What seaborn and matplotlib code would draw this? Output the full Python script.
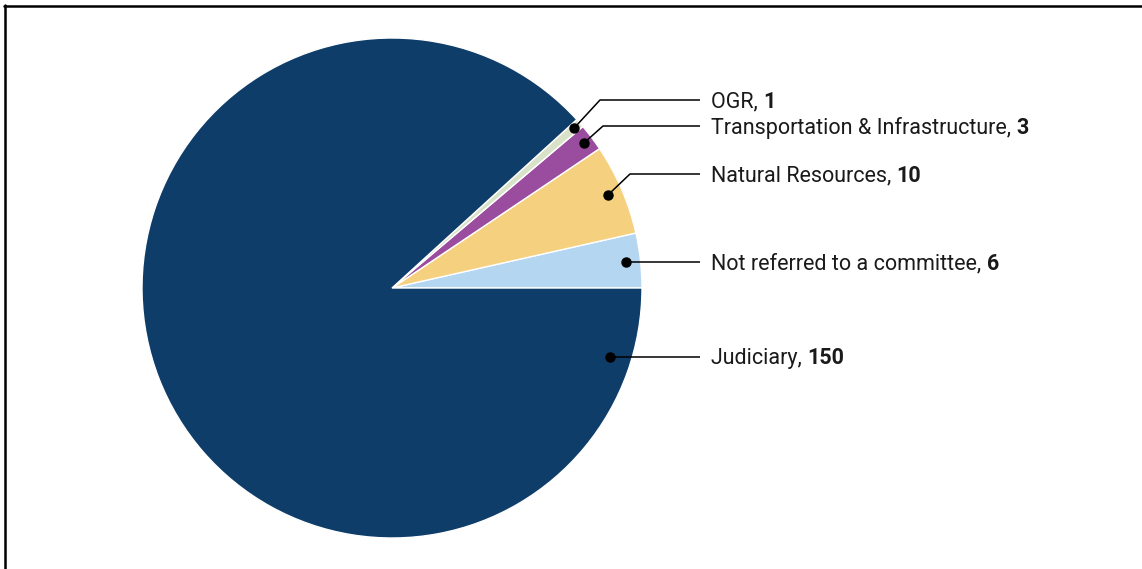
import numpy as np
import matplotlib
matplotlib.use("Agg")
import matplotlib.pyplot as plt
from matplotlib.lines import Line2D
import seaborn as sns

# Data (counter-clockwise from 3 o'clock)
categories = ["Not referred to a committee", "Natural Resources",
              "Transportation & Infrastructure", "OGR", "Judiciary"]
values = [6, 10, 3, 1, 150]
colors = ["#b5d6f0", "#f5d17f", "#9a4d9e", "#d9e2c9", "#0f3d6a"]

sns.set_theme(style="white")
plt.rcParams["font.family"] = ["Roboto", "DejaVu Sans"]

W, H = 1142, 569
fig = plt.figure(figsize=(W / 100, H / 100), dpi=100)
fig.patch.set_facecolor("white")

cx, cy, R = 392, 288, 250
ax = fig.add_axes([(cx - R) / W, (H - cy - R) / H, 2 * R / W, 2 * R / H])
wedges, _ = ax.pie(values, colors=colors, startangle=0, counterclock=True,
                   radius=1.0,
                   wedgeprops=dict(edgecolor="white", linewidth=1.0))
ax.set_xlim(-1, 1)
ax.set_ylim(-1, 1)
ax.set_aspect("equal")
ax.axis("off")

# label layout: (label y, dot radius, dot angle override, elbow)
layout = {
    "OGR": dict(ly=0.752, r=0.97, ang=None, elbow_x=0.832),
    "Transportation & Infrastructure": dict(ly=0.648, r=0.96, ang=None, elbow_x=0.844),
    "Natural Resources": dict(ly=0.456, r=0.94, ang=None, elbow_x=0.952),
    "Not referred to a committee": dict(ly=None, r=0.943, ang=None, elbow_x=None),
    "Judiciary": dict(ly=None, r=0.915, ang=-17.5, elbow_x=None),
}
line_end_x = 1.232
text_x = 1.276
fs = 15.5
txt_color = "#1a1a1a"

renderer = fig.canvas.get_renderer()
for w, cat, val in zip(wedges, categories, values):
    L = layout[cat]
    ang = L["ang"] if L["ang"] is not None else (w.theta1 + w.theta2) / 2
    a = np.deg2rad(ang)
    dx, dy = L["r"] * np.cos(a), L["r"] * np.sin(a)
    ly = L["ly"] if L["ly"] is not None else dy
    if L["elbow_x"] is not None:
        xs = [dx, L["elbow_x"], line_end_x]
        ys = [dy, ly, ly]
    else:
        xs = [dx, line_end_x]
        ys = [dy, dy]
    ax.plot(xs, ys, color="black", lw=1.1, clip_on=False, solid_capstyle="butt")
    ax.plot([dx], [dy], "o", color="black", ms=6.5, clip_on=False)
    # baseline placed so that the cap-height centre sits on the leader line
    cap = 0.711 * fs / 72 * 100  # px
    base_y = ly - (cap / 2) / R
    t = ax.text(text_x, base_y, f"{cat}, ", fontsize=fs, va="baseline",
                ha="left", color=txt_color, clip_on=False)
    bb = t.get_window_extent(renderer)
    x_end = ax.transData.inverted().transform((bb.x1, bb.y0))[0]
    ax.text(x_end, base_y, f"{val}", fontsize=fs, fontweight="bold",
            va="baseline", ha="left", color=txt_color, clip_on=False)

# partial frame (top and left edges)
fig.add_artist(Line2D([4 / W, 1.0], [1 - 5.5 / H, 1 - 5.5 / H],
                      transform=fig.transFigure, color="black", lw=1.8))
fig.add_artist(Line2D([5 / W, 5 / W], [0, 1 - 5 / H],
                      transform=fig.transFigure, color="black", lw=1.8))

fig.savefig("out.png", dpi=100)
